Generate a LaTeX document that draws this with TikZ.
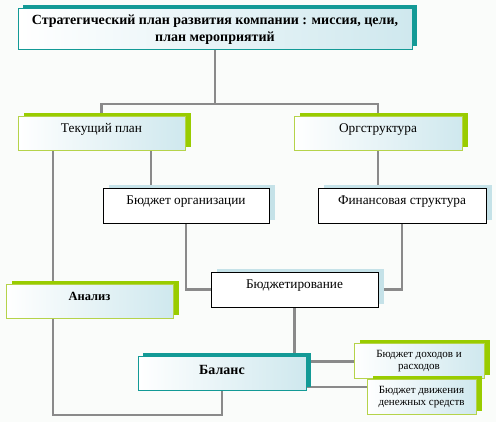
\documentclass[tikz,border=0pt]{standalone}
\usepackage{fontspec}
\setmainfont{Liberation Serif}
\usetikzlibrary{shadows,backgrounds}
\definecolor{linegray}{HTML}{8A8A8A}
\definecolor{tealc}{HTML}{139A96}
\definecolor{greenc}{HTML}{99CC00}
\definecolor{greenb}{HTML}{B5D34A}
\definecolor{lblue}{HTML}{C5E2E8}
\definecolor{gblue}{HTML}{CFE8EE}
\definecolor{bgc}{HTML}{FAFCFA}
\tikzset{
  conn/.style={draw=linegray, line width=2.8pt},
  basebox/.style={rectangle, inner sep=2pt, align=center, text=black},
  grad/.style={left color=white, right color=gblue},
  tealbox/.style={basebox, draw=tealc, line width=1pt, grad,
    general shadow={fill=tealc, shadow xshift=5pt, shadow yshift=4pt}},
  greenbox/.style={basebox, draw=greenb, line width=1pt, grad,
    general shadow={fill=greenc, shadow xshift=6pt, shadow yshift=4pt}},
  plainbox/.style={basebox, draw=black, line width=0.8pt, fill=white,
    general shadow={fill=lblue, shadow xshift=6pt, shadow yshift=3pt}},
  upText/.style={text height=9pt, text depth=11pt},
  f13/.style={font=\fontsize{14}{17}\selectfont},
  f12/.style={font=\fontsize{13.3}{15}\selectfont},
  f10/.style={font=\fontsize{11}{12}\selectfont}
}
\begin{document}
\begin{tikzpicture}[x=1pt,y=-1pt]
\useasboundingbox (0,0) rectangle (496,422);
\node[tealbox, f13, minimum width=394pt, minimum height=41pt] (top) at (215,29.5)
  {\textbf{Стратегический план развития компании : миссия, цели,}\\\textbf{план мероприятий}};
\node[greenbox, f12, upText, minimum width=167pt, minimum height=34pt] (cur) at (101.5,134) {Текущий план};
\node[greenbox, f12, upText, minimum width=168pt, minimum height=34pt] (org) at (378,134) {Оргструктура};
\node[plainbox, f12, upText, minimum width=166pt, minimum height=35pt] (bo) at (186,205.5) {Бюджет организации};
\node[plainbox, f12, upText, minimum width=168pt, minimum height=35pt] (fs) at (402,205.5) {Финансовая структура};
\node[plainbox, f12, upText, minimum width=167pt, minimum height=35pt] (bud) at (294.5,289.5) {Бюджетирование};
\node[greenbox, font=\fontsize{12.5}{15}\selectfont, upText, minimum width=167pt, minimum height=34pt] (an) at (89.5,302) {\textbf{Анализ}};
\node[tealbox, font=\fontsize{14}{18}\selectfont, text height=10pt, text depth=9pt, minimum width=168pt, minimum height=34pt] (bal) at (222,374) {\textbf{Баланс}};
\node[greenbox, f10, minimum width=130pt, minimum height=35pt] (bdr) at (419,361.5) {Бюджет доходов и\\расходов};
\node[greenbox, f10, minimum width=109pt, minimum height=35pt] (bdds) at (421.5,397.5) {Бюджет движения\\денежных средств};
\coordinate (jt) at (215,104);
\coordinate (cl) at (53,0);
\coordinate (bx) at (151,0);
\coordinate (cbot) at (0,415);
\coordinate (cy) at (0,387);
\begin{scope}[on background layer]
  \fill[bgc] (0,0) rectangle (496,422);
  \draw[conn] (top.south) -- (jt);
  \draw[conn] (cur.north) |- (jt) -| (org.north);
  \draw[conn] (cur.south -| cl) -- (an.north -| cl);
  \draw[conn] (cur.south -| bx) -- (bo.north -| bx);
  \draw[conn] (org.south) -- (org.south |- fs.north);
  \draw[conn] (bo.south) |- (bud.west);
  \draw[conn] (fs.south) |- (bud.east);
  \draw[conn] (bud.south) -- (bud.south |- bal.north);
  \draw[conn] (an.south -| cl) |- (bal.south |- cbot) -- (bal.south);
  \draw[conn] (bdr.west -| bal.east) -- (bdr.west);
  \draw[conn] (bal.east |- cy) -- (bdds.west |- cy);
\end{scope}
\end{tikzpicture}
\end{document}
